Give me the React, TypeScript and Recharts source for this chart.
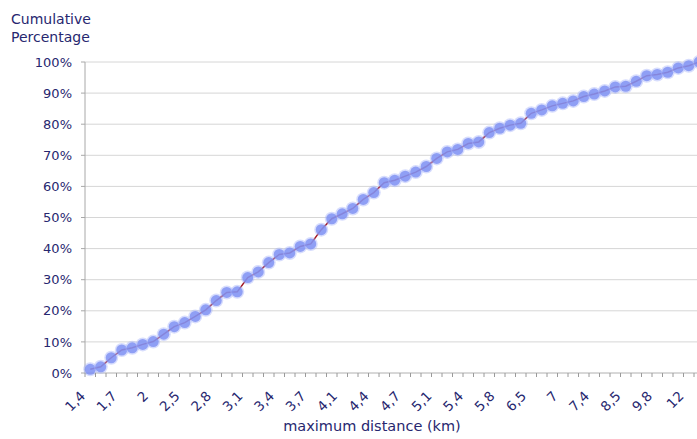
import React from 'react';
import { LineChart, Line, XAxis, YAxis, CartesianGrid } from 'recharts';

const distances: string[] = [
  '1,4', '1,5', '1,6', '1,7', '1,8', '1,9', '2', '2,2', '2,3', '2,5',
  '2,6', '2,7', '2,8', '2,9', '3', '3,1', '3,2', '3,3', '3,4', '3,5',
  '3,6', '3,7', '3,8', '3,9', '4,1', '4,2', '4,3', '4,4', '4,5', '4,6',
  '4,7', '4,8', '4,9', '5,1', '5,2', '5,3', '5,4', '5,5', '5,6', '5,8',
  '6', '6,2', '6,5', '6,6', '6,8', '7', '7,1', '7,2', '7,4', '7,8',
  '8', '8,5', '8,9', '9,3', '9,8', '10', '11', '12', '14',
];

const cumulative: number[] = [
  1.2, 2.0, 4.9, 7.4, 8.1, 9.2, 10.1, 12.5, 14.9, 16.2,
  18.2, 20.3, 23.3, 25.9, 26.1, 30.7, 32.5, 35.5, 38.1, 38.6,
  40.7, 41.5, 46.1, 49.6, 51.2, 52.9, 55.8, 58.0, 61.2, 62.0,
  63.3, 64.6, 66.4, 69.0, 71.1, 71.9, 73.8, 74.3, 77.3, 78.7,
  79.7, 80.3, 83.5, 84.6, 85.9, 86.7, 87.5, 88.9, 89.7, 90.7,
  92.0, 92.2, 93.8, 95.6, 96.0, 96.7, 98.1, 98.8, 100,
];

const yTicks: number[] = [0, 10, 20, 30, 40, 50, 60, 70, 80, 90, 100];
const labelEvery = 3;

const data = distances.map((d, i) => ({ distance: d, pct: cumulative[i] }));

const NAVY = '#27276f';
const FONT = '"DejaVu Sans", sans-serif';

const XTick = (props: any) => {
  const { x, y, payload, index } = props;
  const off = payload && typeof payload.offset === 'number' ? payload.offset : 0;
  const bx = x - off;
  const showLabel = index % labelEvery === 0;
  const ax = bx + 1;
  const ay = y + 24;
  return (
    <g>
      <line x1={bx} y1={y} x2={bx} y2={y + 4} stroke="#9a9a9a" strokeWidth={1} />
      {showLabel && (
        <text
          x={ax}
          y={ay}
          textAnchor="end"
          fill={NAVY}
          fontSize={13.5}
          fontFamily={FONT}
          transform={`rotate(-45, ${ax}, ${ay})`}
        >
          {payload.value}
        </text>
      )}
    </g>
  );
};

const Dot = (props: any) => {
  const { cx, cy } = props;
  if (cx == null || cy == null) return null;
  return (
    <g>
      <circle cx={cx} cy={cy} r={7} fill="#a7b3fa" opacity={0.45} />
      <circle cx={cx} cy={cy} r={5.5} fill="#7d90f2" opacity={0.8} />
    </g>
  );
};

export default function App() {
  return (
    <div
      style={{
        position: 'absolute',
        left: 0,
        top: 0,
        width: 697,
        height: 439,
        overflow: 'hidden',
        background: '#ffffff',
        fontFamily: FONT,
      }}
    >
      <div
        style={{
          position: 'absolute',
          left: 11,
          top: 10,
          color: NAVY,
          fontSize: 14,
          lineHeight: '18px',
          fontFamily: FONT,
        }}
      >
        Cumulative
        <br />
        Percentage
      </div>
      <div
        style={{
          position: 'absolute',
          left: 0,
          top: 418,
          width: 744,
          textAlign: 'center',
          color: NAVY,
          fontSize: 14.5,
          fontFamily: FONT,
          whiteSpace: 'nowrap',
        }}
      >
        maximum distance (km)
      </div>
      <LineChart
        width={710}
        height={439}
        data={data}
        margin={{ top: 62, right: 5.5, bottom: 0, left: 0 }}
      >
        <CartesianGrid vertical={false} stroke="#d6d6d6" strokeWidth={1} />
        <XAxis
          dataKey="distance"
          scale="band"
          interval={0}
          height={66}
          tickSize={0}
          tickMargin={0}
          tickLine={false}
          axisLine={{ stroke: '#c4c4c4' }}
          tick={<XTick />}
        />
        <YAxis
          width={85}
          domain={[0, 100]}
          ticks={yTicks}
          tickFormatter={(v: number) => `${v}%`}
          tickSize={4}
          tickMargin={9}
          axisLine={{ stroke: '#a8a8a8' }}
          tickLine={{ stroke: '#a8a8a8' }}
          tick={{ fill: NAVY, fontSize: 13, fontFamily: FONT }}
          interval={0}
        />
        <Line
          type="linear"
          dataKey="pct"
          stroke="#a3121b"
          strokeWidth={1.5}
          dot={<Dot />}
          activeDot={false}
          isAnimationActive={false}
        />
      </LineChart>
    </div>
  );
}
